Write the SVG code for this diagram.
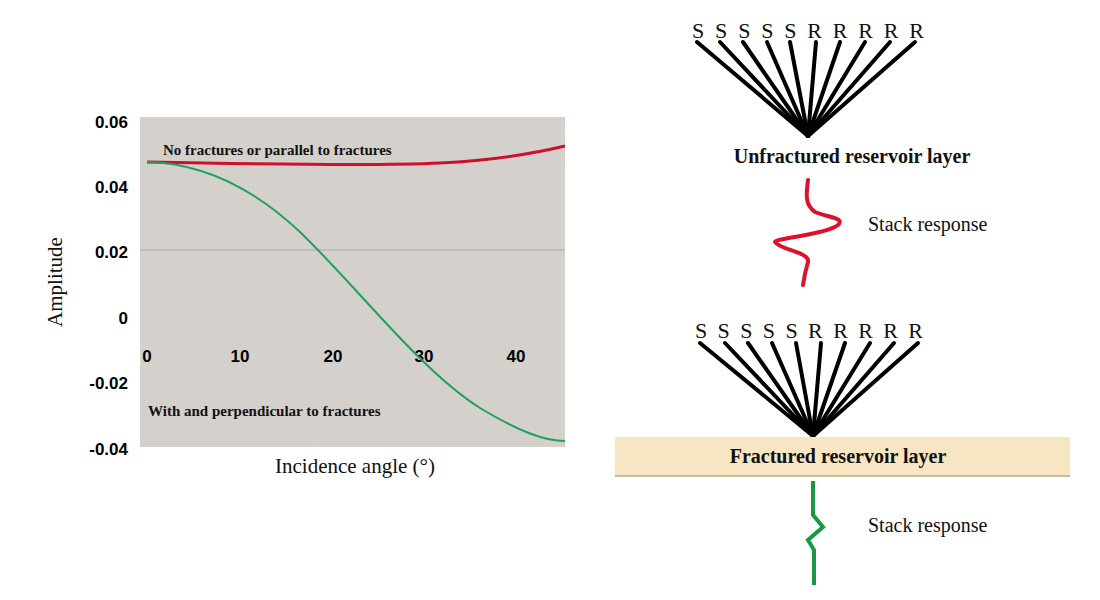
<svg xmlns="http://www.w3.org/2000/svg" width="1100" height="600" viewBox="0 0 1100 600">
<style>
.tick{font-family:"Liberation Sans",Arial,sans-serif;font-weight:bold;font-size:17px;fill:#000}
.ser{font-family:"Liberation Serif","Times New Roman",serif;fill:#111}
.fan{stroke:#000;stroke-width:4;stroke-linecap:round}
</style>
<rect width="1100" height="600" fill="#fff"/>
<g id="chart">
<rect x="140" y="117" width="425" height="330" fill="#d4d0cc"/>
<line x1="140" y1="250" x2="565" y2="250" stroke="#aaa" stroke-width="1"/>
<g class="tick" text-anchor="end">
<text x="128" y="128">0.06</text><text x="128" y="193">0.04</text><text x="128" y="258">0.02</text>
<text x="128" y="324">0</text><text x="128" y="389">-0.02</text><text x="128" y="455">-0.04</text>
</g>
<g class="tick" text-anchor="middle">
<text x="147" y="362">0</text><text x="240" y="362">10</text><text x="333" y="362">20</text><text x="424" y="362">30</text><text x="516" y="362">40</text>
</g>
<text class="ser" x="355" y="473" text-anchor="middle" font-size="21">Incidence angle (°)</text>
<text class="ser" transform="translate(62,282) rotate(-90)" text-anchor="middle" font-size="21">Amplitude</text>
<path d="M147,162 C250,164 380,166 440,163 C500,160 540,152 565,146" fill="none" stroke="#d0102a" stroke-width="3"/>
<path d="M147,162 C200,163 250,185 300,232 C360,290 420,370 480,408 C520,432 545,441 565,441" fill="none" stroke="#20a060" stroke-width="2"/>
<text class="ser" x="163" y="155" font-size="15" font-weight="bold" fill="#d83a2a">No fractures or parallel to fractures</text>
<text class="ser" x="148" y="416" font-size="15" font-weight="bold" fill="#2e8a4c">With and perpendicular to fractures</text>
</g>
<g id="fan1">
<text class="ser" x="692" y="38" font-size="22" textLength="232" lengthAdjust="spacing">SSSSSRRRRR</text>
<g class="fan">
<line x1="697" y1="42" x2="808" y2="136"/><line x1="720" y1="42" x2="808" y2="136"/><line x1="743" y1="42" x2="808" y2="136"/><line x1="767" y1="42" x2="808" y2="136"/><line x1="790" y1="42" x2="808" y2="136"/>
<line x1="816" y1="42" x2="808" y2="136"/><line x1="840" y1="42" x2="808" y2="136"/><line x1="865" y1="42" x2="808" y2="136"/><line x1="890" y1="42" x2="808" y2="136"/><line x1="915" y1="42" x2="808" y2="136"/>
</g>
<text class="ser" x="852" y="163" text-anchor="middle" font-size="20" font-weight="bold">Unfractured reservoir layer</text>
</g>
<g id="wave1">
<path d="M808,180 C806,195 805,205 815,212 C830,218 845,218 838,225 C825,235 775,238 775,242 C780,250 810,252 808,262 C805,272 804,278 803,285" fill="none" stroke="#e0102a" stroke-width="4" stroke-linecap="round"/>
<text class="ser" x="868" y="231" font-size="20">Stack response</text>
</g>
<g id="fan2">
<text class="ser" x="695" y="338" font-size="22" textLength="228" lengthAdjust="spacing">SSSSSRRRRR</text>
<g class="fan">
<line x1="700" y1="343" x2="813" y2="436"/><line x1="725" y1="343" x2="813" y2="436"/><line x1="748" y1="343" x2="813" y2="436"/><line x1="772" y1="343" x2="813" y2="436"/><line x1="796" y1="343" x2="813" y2="436"/>
<line x1="821" y1="343" x2="813" y2="436"/><line x1="845" y1="343" x2="813" y2="436"/><line x1="870" y1="343" x2="813" y2="436"/><line x1="894" y1="343" x2="813" y2="436"/><line x1="918" y1="343" x2="813" y2="436"/>
</g>
</g>
<g id="layer">
<rect x="615" y="437" width="455" height="39" fill="#f6e6c2"/>
<line x1="615" y1="476" x2="1070" y2="476" stroke="#b8a888" stroke-width="1.5"/>
<text class="ser" x="838" y="463" text-anchor="middle" font-size="20" font-weight="bold">Fractured reservoir layer</text>
</g>
<g id="wave2">
<path d="M813,481 L813,515 L823,527 L808,540 L814,550 L814,585" fill="none" stroke="#1a9a40" stroke-width="4"/>
<text class="ser" x="868" y="532" font-size="20">Stack response</text>
</g>
</svg>
